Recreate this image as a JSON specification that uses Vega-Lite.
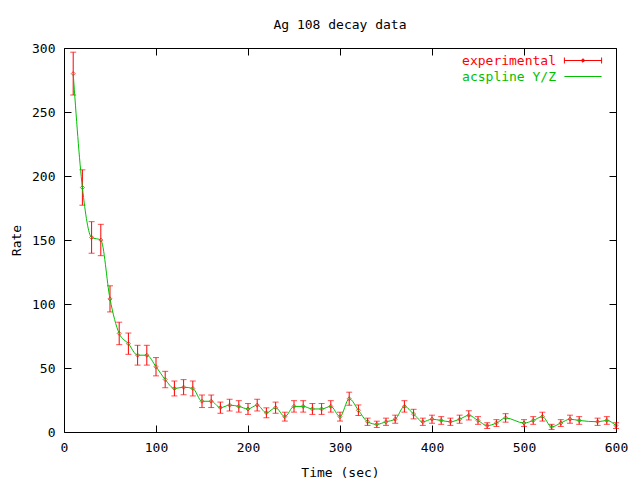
{
  "$schema": "https://vega.github.io/schema/vega-lite/v6.json",
  "width": 552,
  "height": 384,
  "autosize": {"type": "none"},
  "padding": {"left": 64, "top": 48, "right": 24, "bottom": 48},
  "background": "white",
  "title": {"text": "Ag 108 decay data", "font": "DejaVu Sans Mono", "fontSize": 13, "fontWeight": "normal", "color": "black", "offset": 10, "anchor": "middle"},
  "config": {
    "view": {"stroke": "black", "strokeWidth": 1},
    "font": "DejaVu Sans Mono",
    "axis": {
      "grid": false,
      "domain": false,
      "tickColor": "black",
      "tickSize": -7,
      "tickWidth": 1,
      "labelFont": "DejaVu Sans Mono",
      "labelFontSize": 13,
      "labelColor": "black",
      "titleFont": "DejaVu Sans Mono",
      "titleFontSize": 13,
      "titleFontWeight": "normal",
      "titleColor": "black"
    }
  },
  "data": {
    "values": [
      {"t": 10, "rate": 280, "err": 16.733201},
      {"t": 20, "rate": 191, "err": 13.820275},
      {"t": 30, "rate": 152, "err": 12.328828},
      {"t": 40, "rate": 150, "err": 12.247449},
      {"t": 50, "rate": 104, "err": 10.198039},
      {"t": 60, "rate": 77, "err": 8.774964},
      {"t": 70, "rate": 69, "err": 8.306624},
      {"t": 80, "rate": 60, "err": 7.745967},
      {"t": 90, "rate": 60, "err": 7.745967},
      {"t": 100, "rate": 51, "err": 7.141428},
      {"t": 110, "rate": 41, "err": 6.403124},
      {"t": 120, "rate": 34, "err": 5.830952},
      {"t": 130, "rate": 35, "err": 5.91608},
      {"t": 140, "rate": 34, "err": 5.830952},
      {"t": 150, "rate": 24, "err": 4.898979},
      {"t": 160, "rate": 24, "err": 4.898979},
      {"t": 170, "rate": 19, "err": 4.358899},
      {"t": 180, "rate": 21, "err": 4.582576},
      {"t": 190, "rate": 20, "err": 4.472136},
      {"t": 200, "rate": 18, "err": 4.242641},
      {"t": 210, "rate": 21, "err": 4.582576},
      {"t": 220, "rate": 15, "err": 3.872983},
      {"t": 230, "rate": 19, "err": 4.358899},
      {"t": 240, "rate": 12, "err": 3.464102},
      {"t": 250, "rate": 20, "err": 4.472136},
      {"t": 260, "rate": 20, "err": 4.472136},
      {"t": 270, "rate": 18, "err": 4.242641},
      {"t": 280, "rate": 18, "err": 4.242641},
      {"t": 290, "rate": 20, "err": 4.472136},
      {"t": 300, "rate": 12, "err": 3.464102},
      {"t": 310, "rate": 26, "err": 5.09902},
      {"t": 320, "rate": 17, "err": 4.123106},
      {"t": 330, "rate": 8, "err": 2.828427},
      {"t": 340, "rate": 6, "err": 2.44949},
      {"t": 350, "rate": 8, "err": 2.828427},
      {"t": 360, "rate": 10, "err": 3.162278},
      {"t": 370, "rate": 20, "err": 4.472136},
      {"t": 380, "rate": 14, "err": 3.741657},
      {"t": 390, "rate": 8, "err": 2.828427},
      {"t": 400, "rate": 10, "err": 3.162278},
      {"t": 410, "rate": 9, "err": 3.0},
      {"t": 420, "rate": 8, "err": 2.828427},
      {"t": 430, "rate": 10, "err": 3.162278},
      {"t": 440, "rate": 13, "err": 3.605551},
      {"t": 450, "rate": 9, "err": 3.0},
      {"t": 460, "rate": 5, "err": 2.236068},
      {"t": 470, "rate": 7, "err": 2.645751},
      {"t": 480, "rate": 11, "err": 3.316625},
      {"t": 500, "rate": 7, "err": 2.645751},
      {"t": 510, "rate": 9, "err": 3.0},
      {"t": 520, "rate": 12, "err": 3.464102},
      {"t": 530, "rate": 4, "err": 2.0},
      {"t": 540, "rate": 7, "err": 2.645751},
      {"t": 550, "rate": 10, "err": 3.162278},
      {"t": 560, "rate": 9, "err": 3.0},
      {"t": 580, "rate": 8, "err": 2.828427},
      {"t": 590, "rate": 9, "err": 3.0},
      {"t": 600, "rate": 5, "err": 2.236068}
    ]
  },
  "resolve": {"axis": {"x": "independent", "y": "independent"}},
  "layer": [
    {
      "mark": {"type": "errorbar", "ticks": {"size": 6}, "thickness": 1},
      "encoding": {
        "x": {"field": "t", "type": "quantitative", "scale": {"domain": [0, 600], "nice": false},
              "axis": {"orient": "bottom", "values": [0, 100, 200, 300, 400, 500, 600], "title": "Time (sec)", "labelPadding": 16, "titlePadding": 12, "labelFlush": false}},
        "y": {"field": "rate", "type": "quantitative", "scale": {"domain": [0, 300], "nice": false, "zero": true},
              "axis": {"orient": "left", "values": [0, 50, 100, 150, 200, 250, 300], "title": "Rate", "labelPadding": 16, "titlePadding": 8, "labelFlush": false}},
        "yError": {"field": "err"},
        "color": {"datum": "experimental", "type": "nominal",
                  "scale": {"domain": ["experimental", "acspline Y/Z"], "range": ["#ff0000", "#00c000"]},
                  "legend": {
                    "title": null, "orient": "none", "legendX": 492, "legendY": 6,
                    "labelFont": "DejaVu Sans Mono", "labelFontSize": 13, "labelAlign": "right", "padding": 0, "rowPadding": 2,
                    "symbolSize": 144, "symbolStrokeWidth": 1,
                    "encode": {
                      "labels": {"update": {"x": {"value": 0}, "align": {"value": "right"}, "fill": {"signal": "datum.value === 'experimental' ? '#ff0000' : '#00c000'"}}},
                      "symbols": {"update": {"x": {"value": 27}, "shape": {"signal": "datum.value === 'experimental' ? 'M-3.1,0H3.1M-3.1,-0.5V0.5M3.1,-0.5V0.5M-0.3,0L0,-0.3L0.3,0L0,0.3Z' : 'M-3.1,0H3.1'"}, "fill": {"value": "transparent"}, "stroke": {"signal": "datum.value === 'experimental' ? '#ff0000' : '#00c000'"}, "strokeWidth": {"value": 1}, "opacity": {"value": 1}}}
                    }
                  }}
      }
    },
    {
      "mark": {"type": "point", "shape": "diamond", "size": 16, "filled": false, "strokeWidth": 1, "color": "#ff0000"},
      "encoding": {
        "x": {"field": "t", "type": "quantitative", "axis": null},
        "y": {"field": "rate", "type": "quantitative", "axis": null}
      }
    },
    {
      "mark": {"type": "line", "interpolate": "monotone", "strokeWidth": 1},
      "encoding": {
        "x": {"field": "t", "type": "quantitative", "axis": {"orient": "top", "values": [0, 100, 200, 300, 400, 500, 600], "labels": false, "title": null}},
        "y": {"field": "rate", "type": "quantitative", "axis": {"orient": "right", "values": [0, 50, 100, 150, 200, 250, 300], "labels": false, "title": null}},
        "color": {"datum": "acspline Y/Z", "type": "nominal"}
      }
    }
  ]
}
